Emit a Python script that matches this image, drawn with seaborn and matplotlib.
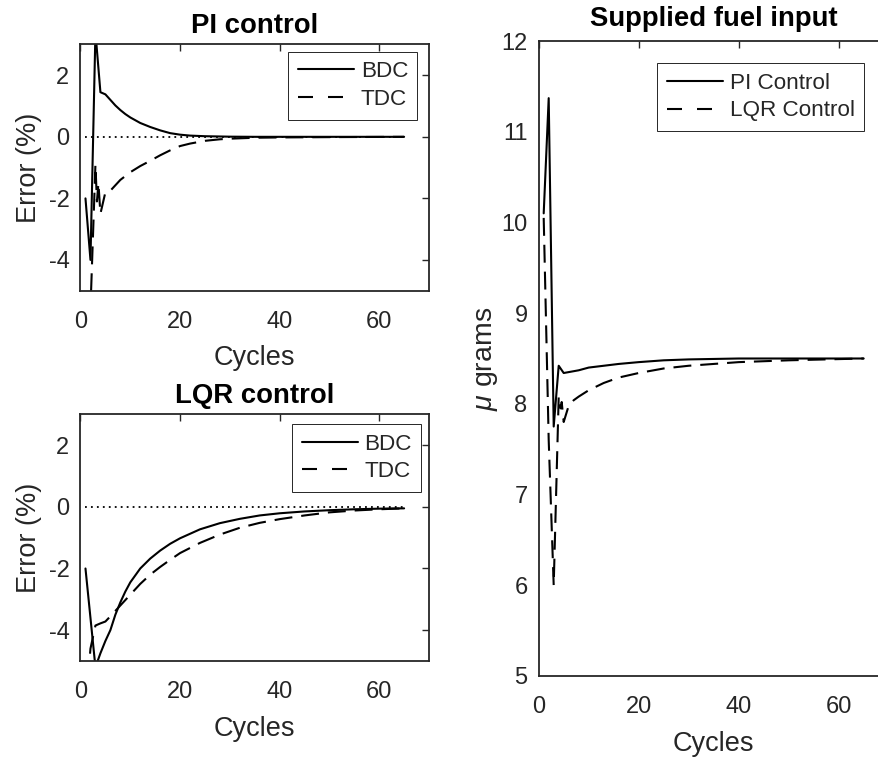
import numpy as np
import matplotlib
matplotlib.use("Agg")
import matplotlib.pyplot as plt
import seaborn as sns

# PI control error (%)
pi_bdc_cycles = [1, 2, 3, 4, 5, 6, 7, 8, 9, 10, 12, 14, 16, 18, 20, 22, 25, 30, 35, 40, 50, 60, 65]
pi_bdc_error = [-2.0, -4.0, 3.4, 1.45, 1.38, 1.2, 1.02, 0.87, 0.74, 0.63, 0.45, 0.32, 0.21, 0.12,
                0.07, 0.04, 0.02, 0.005, 0.0, 0.0, 0.0, 0.0, 0.0]
pi_tdc_cycles = [1, 2, 3, 3.3, 3.6, 4, 5, 6, 8, 10, 12, 14, 16, 18, 20, 22, 25, 28, 30, 35, 40, 50, 65]
pi_tdc_error = [-12.0, -5.6, -0.9, -2.1, -1.5, -2.5, -1.8, -1.75, -1.4, -1.15, -0.95, -0.78, -0.6,
                -0.44, -0.3, -0.22, -0.13, -0.08, -0.06, -0.03, -0.02, -0.01, 0.0]

# LQR control error (%)
lqr_bdc_cycles = [1, 2, 3, 4, 5, 6, 7, 8, 9, 10, 12, 14, 16, 18, 20, 24, 28, 32, 36, 40, 45, 50, 55, 60, 65]
lqr_bdc_error = [-2.0, -3.6, -5.2, -4.75, -4.35, -4.0, -3.5, -3.1, -2.75, -2.45, -2.0, -1.68, -1.42,
                 -1.2, -1.02, -0.73, -0.53, -0.39, -0.28, -0.21, -0.15, -0.11, -0.08, -0.06, -0.05]
lqr_tdc_cycles = [1, 2, 3, 4, 5, 6, 8, 10, 12, 14, 16, 18, 20, 24, 28, 32, 36, 40, 45, 50, 55, 60, 65]
lqr_tdc_error = [-6.5, -4.6, -3.85, -3.78, -3.72, -3.55, -3.2, -2.85, -2.5, -2.2, -1.95, -1.72, -1.5,
                 -1.17, -0.9, -0.68, -0.52, -0.4, -0.28, -0.18, -0.12, -0.08, -0.05]

# supplied fuel (micro grams)
fuel_pi_cycles = [1, 2, 3, 4, 5, 6, 8, 10, 13, 16, 20, 25, 30, 40, 50, 65]
fuel_pi = [10.1, 11.37, 7.75, 8.42, 8.34, 8.35, 8.37, 8.4, 8.42, 8.44, 8.46, 8.48, 8.49, 8.5, 8.5, 8.5]
fuel_lqr_cycles = [1, 2, 3, 4, 4.4, 4.6, 5, 6, 7, 8, 10, 13, 16, 20, 25, 30, 35, 40, 50, 65]
fuel_lqr = [10.05, 7.6, 6.0, 8.08, 7.95, 8.02, 7.8, 7.98, 8.04, 8.08, 8.15, 8.23, 8.29, 8.34, 8.39,
            8.42, 8.44, 8.46, 8.48, 8.5]

sns.set_theme(style="white")
plt.rcParams["font.family"] = ["Liberation Sans", "DejaVu Sans"]
plt.rcParams["axes.unicode_minus"] = False
plt.rcParams["mathtext.fontset"] = "custom"
plt.rcParams["mathtext.it"] = "Liberation Sans:italic"
plt.rcParams["mathtext.rm"] = "Liberation Sans"

DARK = "#262626"
DASH = (0, (8.6, 4.3))
LEG_DASH = (0, (7.2, 7.2))
TICK_FS = 17
LABEL_FS = 19.5
TITLE_FS = 19.8
LEG_FS = 16.2

W, H = 879, 757
fig = plt.figure(figsize=(W / 100, H / 100), dpi=100)


def px_axes(left, top, right, bottom):
    return fig.add_axes([left / W, 1 - bottom / H, (right - left) / W, (bottom - top) / H])


ax_pi = px_axes(80.5, 44.5, 429, 290.7)
ax_lqr = px_axes(80.5, 414.3, 429, 661)
ax_fuel = px_axes(538.7, 41, 888.7, 676)


def style(ax, ylim, yticks):
    ax.set_xlim(0, 70)
    ax.set_ylim(*ylim)
    ax.set_xticks([0, 20, 40, 60])
    ax.set_yticks(yticks)
    ax.tick_params(direction="in", length=5, width=1, top=True, right=True,
                   labelsize=TICK_FS, colors=DARK)
    ax.tick_params(axis="x", pad=14.5)
    ax.tick_params(axis="y", pad=8)
    for s in ax.spines.values():
        s.set_color(DARK)
        s.set_linewidth(1.3)
    ax.set_xlabel("Cycles", fontsize=LABEL_FS, color=DARK, labelpad=9)


def make_legend(ax, anchor):
    leg = ax.legend(loc="upper right", bbox_to_anchor=anchor, borderaxespad=0,
                    fontsize=LEG_FS, handlelength=2.5, handletextpad=0.3, labelspacing=0.3,
                    borderpad=0.42, fancybox=False, framealpha=1, labelcolor=DARK)
    leg.get_frame().set_edgecolor(DARK)
    leg.get_frame().set_linewidth(0.7)
    # dashed entry is drawn with a looser pattern in the legend box
    leg.get_lines()[1].set_linestyle(LEG_DASH)


def error_panel(ax, title, bdc_x, bdc_y, tdc_x, tdc_y, leg_anchor):
    sns.lineplot(x=bdc_x, y=bdc_y, ax=ax, color="black", linewidth=1.5, label="BDC",
                 errorbar=None, sort=False)
    sns.lineplot(x=tdc_x, y=tdc_y, ax=ax, color="black", linewidth=1.5, linestyle=DASH,
                 label="TDC", errorbar=None, sort=False)
    ax.hlines(0, bdc_x[0], bdc_x[-1], colors="black", linewidth=1.3, linestyles=[(0, (1, 2.3))])
    style(ax, (-5, 3), [-4, -2, 0, 2])
    ax.set_ylabel("Error (%)", fontsize=LABEL_FS, color=DARK, labelpad=5)
    ax.set_title(title, fontsize=TITLE_FS, fontweight="bold", color="black", pad=8)
    make_legend(ax, leg_anchor)


error_panel(ax_pi, "PI control", pi_bdc_cycles, pi_bdc_error, pi_tdc_cycles, pi_tdc_error,
            (0.967, 0.970))
error_panel(ax_lqr, "LQR control", lqr_bdc_cycles, lqr_bdc_error, lqr_tdc_cycles, lqr_tdc_error,
            (0.978, 0.960))

sns.lineplot(x=fuel_pi_cycles, y=fuel_pi, ax=ax_fuel, color="black", linewidth=1.5,
             label="PI Control", errorbar=None, sort=False)
sns.lineplot(x=fuel_lqr_cycles, y=fuel_lqr, ax=ax_fuel, color="black", linewidth=1.5,
             linestyle=DASH, label="LQR Control", errorbar=None, sort=False)
style(ax_fuel, (5, 12), [5, 6, 7, 8, 9, 10, 11, 12])
ax_fuel.set_ylabel(r"$\mu\ $grams", fontsize=20.5, color=DARK, labelpad=1)
ax_fuel.set_title("Supplied fuel input", fontsize=TITLE_FS, fontweight="bold", color="black", pad=10.5)
make_legend(ax_fuel, (0.930, 0.965))

fig.savefig("out.png", dpi=100)
